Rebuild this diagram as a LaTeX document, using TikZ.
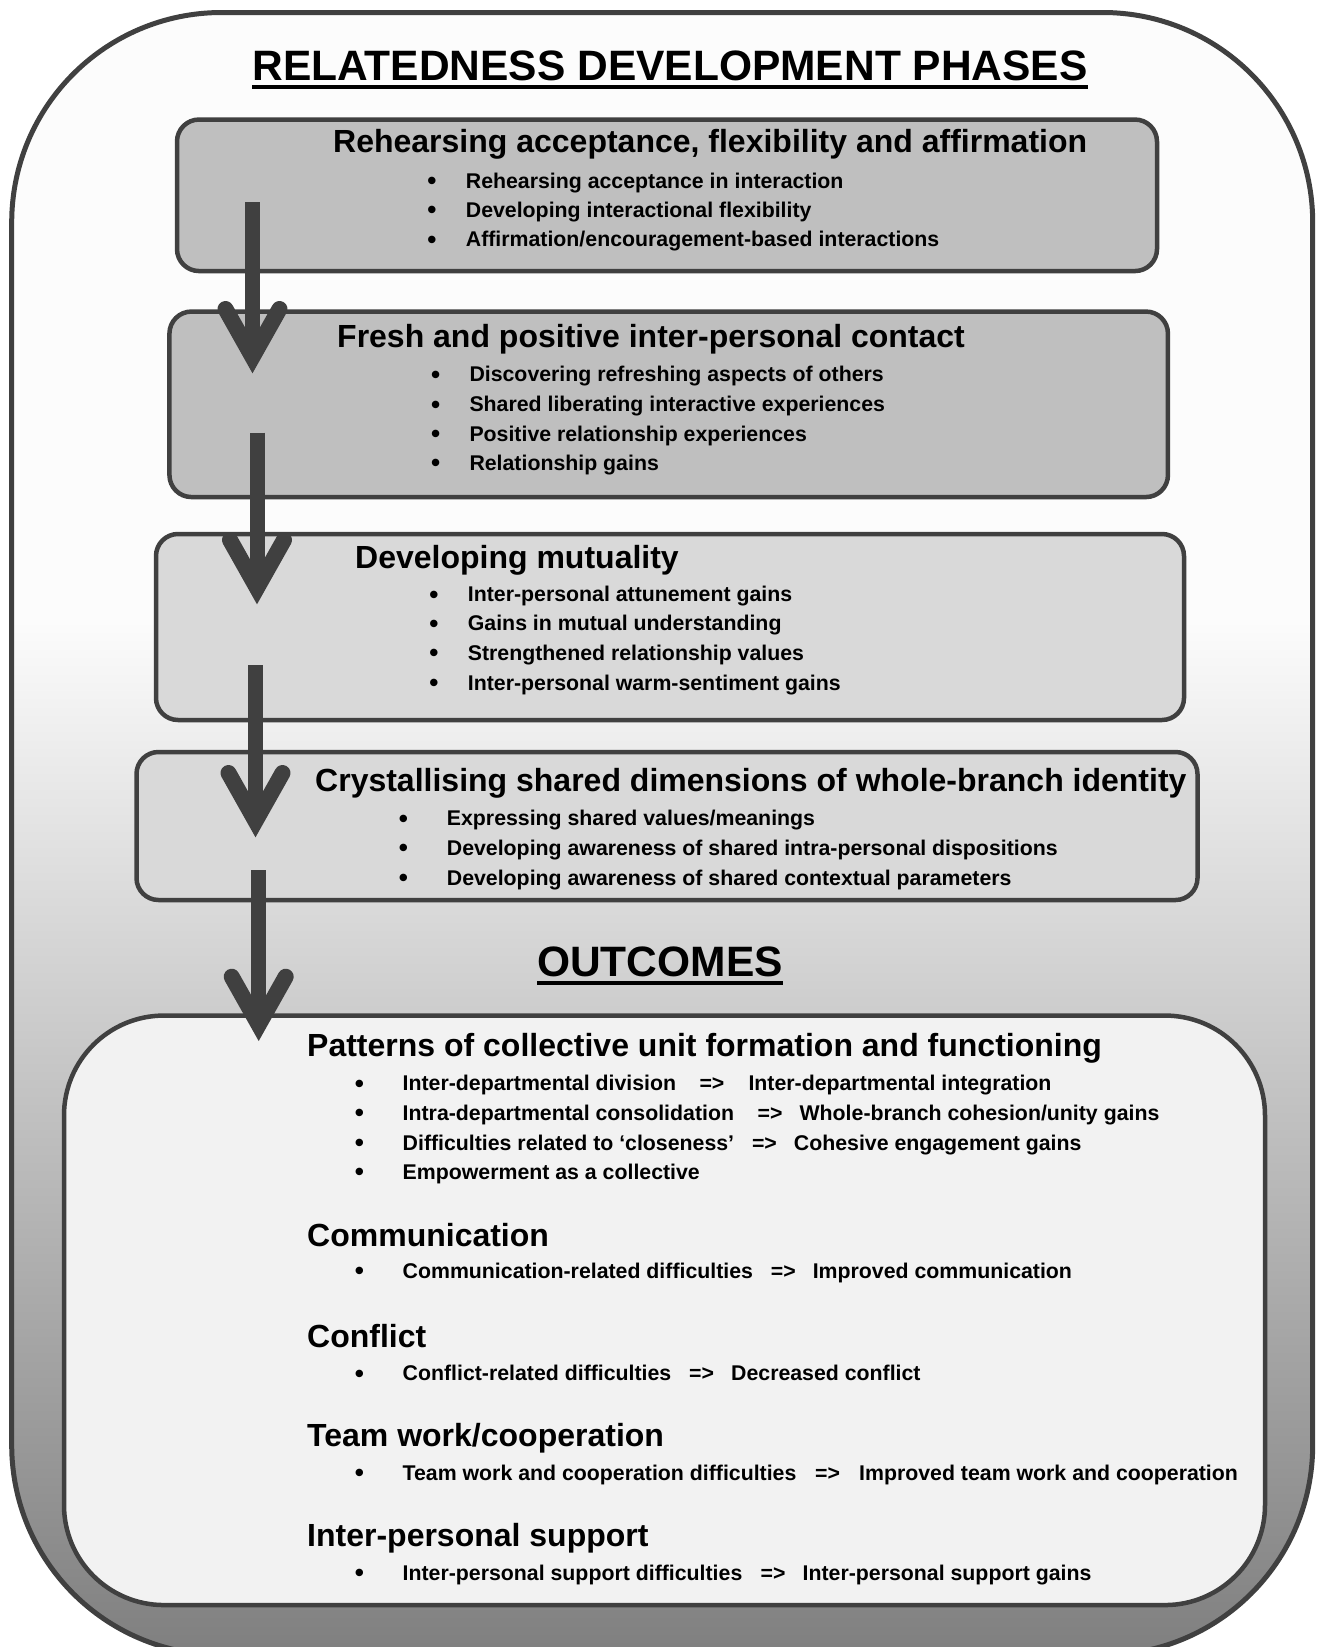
\documentclass[tikz,border=0pt]{standalone}
\usepackage{fontspec}
\setmainfont{Liberation Sans}
\definecolor{bordc}{HTML}{404040}
\definecolor{boxdark}{HTML}{BFBFBF}
\definecolor{boxlight}{HTML}{D9D9D9}
\definecolor{outbox}{HTML}{F2F2F2}
\definecolor{shlight}{HTML}{FCFCFC}
\definecolor{shdark}{HTML}{7F7F7F}
\pgfdeclareverticalshading{outershade}{100bp}{color(0bp)=(shdark); color(25bp)=(shdark); color(56.5bp)=(shlight); color(100bp)=(shlight)}
\begin{document}
\begin{tikzpicture}[x=1pt,y=-1pt,
  phasebox/.style={draw=bordc, line width=4.5pt, rounded corners=22pt, rectangle, inner sep=0pt},
  maintitle/.style={font=\bfseries\fontsize{42.5}{50}\selectfont, anchor=base, inner sep=0pt},
  headtxt/.style={font=\bfseries\fontsize{32}{38}\selectfont, anchor=base west, inner sep=0pt},
  itemtxt/.style={font=\bfseries\fontsize{21.3}{25}\selectfont, anchor=base west, inner sep=0pt},
  bulletdot/.style={font=\bfseries\fontsize{26}{30}\selectfont, anchor=base, inner sep=0pt, yshift=-1.5pt},
  arrshaft/.style={draw=bordc, line width=15pt},
  arrowhd/.style={draw=bordc, line width=16pt, line cap=round, line join=miter},
  uline/.style={line width=4.5pt, black}]
\useasboundingbox (0,0) rectangle (1317,1647);
\fill[white] (0,0) rectangle (1317,1647);
% outer frame
\shadedraw[shading=outershade, draw=bordc, line width=5pt, rounded corners=210pt] (11.7,12.5) rectangle (1312.7,1655);
% title
\node[maintitle] (title) at (670,80) {RELATEDNESS DEVELOPMENT PHASES};
\draw[uline] ([yshift=-7pt]title.base west) -- ([yshift=-7pt]title.base east);
% phase boxes
\node[phasebox, fill=boxdark, minimum width=980pt, minimum height=151.5pt] (b1) at (667,195.3) {};
\node[phasebox, fill=boxdark, minimum width=998.5pt, minimum height=185.5pt] (b2) at (668.7,404.3) {};
\node[phasebox, fill=boxlight, minimum width=1028pt, minimum height=186pt] (b3) at (670,627) {};
\node[phasebox, fill=boxlight, minimum width=1061pt, minimum height=148pt] (b4) at (667,826) {};
% box 1
\node[headtxt] (h1) at (333,152.7) {Rehearsing acceptance, flexibility and affirmation};
\node[bulletdot] (d11) at (432,188.3) {•};
\node[itemtxt] (t11) at (465.7,188.3) {Rehearsing acceptance in interaction};
\node[bulletdot] (d12) at (432,217.3) {•};
\node[itemtxt] (t12) at (465.7,217.3) {Developing interactional flexibility};
\node[bulletdot] (d13) at (432,246.7) {•};
\node[itemtxt] (t13) at (465.7,246.7) {Affirmation/encouragement-based interactions};
% box 2
\node[headtxt] (h2) at (337,347.3) {Fresh and positive inter-personal contact};
\node[bulletdot] (d21) at (435.7,381.7) {•};
\node[itemtxt] (t21) at (469.3,381.7) {Discovering refreshing aspects of others};
\node[bulletdot] (d22) at (435.7,411.7) {•};
\node[itemtxt] (t22) at (469.3,411.7) {Shared liberating interactive experiences};
\node[bulletdot] (d23) at (435.7,441) {•};
\node[itemtxt] (t23) at (469.3,441) {Positive relationship experiences};
\node[bulletdot] (d24) at (435.7,470) {•};
\node[itemtxt] (t24) at (469.3,470) {Relationship gains};
% box 3
\node[headtxt] (h3) at (355,568.3) {Developing mutuality};
\node[bulletdot] (d31) at (434,601.7) {•};
\node[itemtxt] (t31) at (467.7,601.7) {Inter-personal attunement gains};
\node[bulletdot] (d32) at (434,630.7) {•};
\node[itemtxt] (t32) at (467.7,630.7) {Gains in mutual understanding};
\node[bulletdot] (d33) at (434,660) {•};
\node[itemtxt] (t33) at (467.7,660) {Strengthened relationship values};
\node[bulletdot] (d34) at (434,690) {•};
\node[itemtxt] (t34) at (467.7,690) {Inter-personal warm-sentiment gains};
% box 4
\node[headtxt] (h4) at (315,791.7) {Crystallising shared dimensions of whole-branch identity};
\node[bulletdot] (d41) at (403.3,825.7) {•};
\node[itemtxt] (t41) at (446.7,825.7) {Expressing shared values/meanings};
\node[bulletdot] (d42) at (403.3,855) {•};
\node[itemtxt] (t42) at (446.7,855) {Developing awareness of shared intra-personal dispositions};
\node[bulletdot] (d43) at (403.3,885) {•};
\node[itemtxt] (t43) at (446.7,885) {Developing awareness of shared contextual parameters};
% outcomes title
\node[maintitle] (otitle) at (660,976.7) {OUTCOMES};
\draw[uline] ([yshift=-6.5pt]otitle.base west) -- ([yshift=-6.5pt]otitle.base east);
% outcomes box
\node[phasebox, fill=outbox, rounded corners=100pt, minimum width=1201pt, minimum height=589.5pt] (ob) at (664.5,1310.3) {};
% outcomes content
\node[headtxt] (oh1) at (307,1056.7) {Patterns of collective unit formation and functioning};
\node[bulletdot] (od11) at (359.5,1090.7) {•};
\node[itemtxt] (ot11) at (402.5,1090.7) {Inter-departmental division};
\node[itemtxt] (oa11) at (699.3,1090.7) {=>};
\node[itemtxt] (or11) at (748.3,1090.7) {Inter-departmental integration};
\node[bulletdot] (od12) at (359.5,1120) {•};
\node[itemtxt] (ot12) at (402.5,1120) {Intra-departmental consolidation};
\node[itemtxt] (oa12) at (757.5,1120) {=>};
\node[itemtxt] (or12) at (799.4,1120) {Whole-branch cohesion/unity gains};
\node[bulletdot] (od13) at (359.5,1150) {•};
\node[itemtxt] (ot13) at (402.5,1150) {Difficulties related to ‘closeness’};
\node[itemtxt] (oa13) at (751.8,1150) {=>};
\node[itemtxt] (or13) at (793.7,1150) {Cohesive engagement gains};
\node[bulletdot] (od14) at (359.5,1179.3) {•};
\node[itemtxt] (ot14) at (402.5,1179.3) {Empowerment as a collective};
%
\node[headtxt] (oh2) at (307,1246.7) {Communication};
\node[bulletdot] (od21) at (359.5,1278.3) {•};
\node[itemtxt] (ot21) at (402.5,1278.3) {Communication-related difficulties};
\node[itemtxt] (oa21) at (770.7,1278.3) {=>};
\node[itemtxt] (or21) at (812.6,1278.3) {Improved communication};
%
\node[headtxt] (oh3) at (307,1347) {Conflict};
\node[bulletdot] (od31) at (359.5,1380.7) {•};
\node[itemtxt] (ot31) at (402.5,1380.7) {Conflict-related difficulties};
\node[itemtxt] (oa31) at (689,1380.7) {=>};
\node[itemtxt] (or31) at (731,1380.7) {Decreased conflict};
%
\node[headtxt] (oh4) at (307,1446.7) {Team work/cooperation};
\node[bulletdot] (od41) at (359.5,1480) {•};
\node[itemtxt] (ot41) at (402.5,1480) {Team work and cooperation difficulties};
\node[itemtxt] (oa41) at (815,1480) {=>};
\node[itemtxt] (or41) at (859,1480) {Improved team work and cooperation};
%
\node[headtxt] (oh5) at (307,1546) {Inter-personal support};
\node[bulletdot] (od51) at (359.5,1580) {•};
\node[itemtxt] (ot51) at (402.5,1580) {Inter-personal support difficulties};
\node[itemtxt] (oa51) at (760.5,1580) {=>};
\node[itemtxt] (or51) at (802.5,1580) {Inter-personal support gains};
% arrows
\coordinate (a1s) at (252.5,202);  \coordinate (a1v) at (252.5,357);
\coordinate (a1l) at (225.5,309);  \coordinate (a1r) at (279.5,309);
\coordinate (a2s) at (257,432.7);  \coordinate (a2v) at (257,588);
\coordinate (a2l) at (230,540);    \coordinate (a2r) at (284,540);
\coordinate (a3s) at (255.5,665);  \coordinate (a3v) at (255.5,821);
\coordinate (a3l) at (228.5,773);  \coordinate (a3r) at (282.5,773);
\coordinate (a4s) at (258.7,870);  \coordinate (a4v) at (258.7,1024.7);
\coordinate (a4l) at (231.7,976.7); \coordinate (a4r) at (285.7,976.7);
\foreach \k in {1,2,3,4}{
  \draw[arrshaft] (a\k s) -- (a\k v);
  \draw[arrowhd] (a\k l) -- (a\k v) -- (a\k r);
}
\end{tikzpicture}
\end{document}
